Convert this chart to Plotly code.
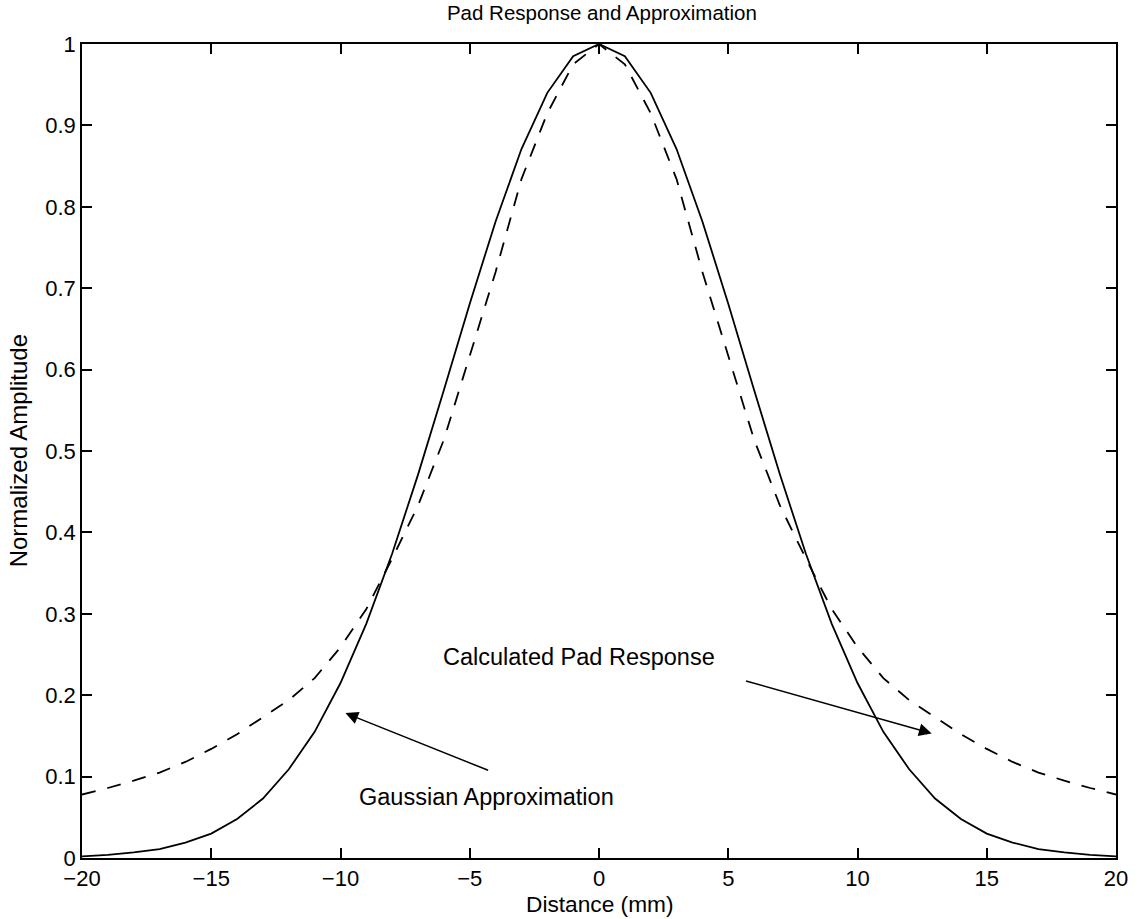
import plotly.graph_objects as go

distance_mm = list(range(-20, 21))

gaussian_half = [1.000, 0.985, 0.940, 0.871, 0.782, 0.681, 0.575, 0.471, 0.374, 0.288,
                 0.215, 0.155, 0.109, 0.073, 0.048, 0.030, 0.019, 0.011, 0.0068, 0.0039, 0.0021]
pad_half = [1.000, 0.975, 0.915, 0.834, 0.720, 0.617, 0.514, 0.433, 0.368, 0.306,
            0.259, 0.221, 0.194, 0.173, 0.152, 0.134, 0.118, 0.105, 0.095, 0.086, 0.078]

solid_vals = gaussian_half[::-1][:-1] + gaussian_half
dashed_vals = pad_half[::-1][:-1] + pad_half

FONT = "Liberation Sans, Arial, Helvetica, sans-serif"
FS_TICK = 22
FS_TEXT = 23.5

fig = go.Figure()
fig.add_trace(go.Scatter(x=distance_mm, y=solid_vals, mode="lines",
                         line=dict(color="black", width=1.8), showlegend=False))
fig.add_trace(go.Scatter(x=distance_mm, y=dashed_vals, mode="lines",
                         line=dict(color="black", width=1.8, dash="14px,12px"), showlegend=False))

axis_common = dict(showline=True, linecolor="black", linewidth=1.5, mirror="ticks",
                   ticks="inside", ticklen=10, tickwidth=1.5, tickcolor="black",
                   showgrid=False, zeroline=False,
                   tickfont=dict(family=FONT, size=FS_TICK, color="black"))

fig.update_xaxes(range=[-20, 20], dtick=5, tick0=0, **axis_common)
fig.update_yaxes(range=[0, 1], dtick=0.1, tick0=0, **axis_common)

W, H = 1140, 919
L, R, T, B = 82, 18, 44, 61
fig.update_layout(
    width=W, height=H,
    margin=dict(l=L, r=R, t=T, b=B),
    plot_bgcolor="white", paper_bgcolor="white",
    font=dict(family=FONT, size=FS_TICK, color="black"),
    title=dict(text="Pad Response and Approximation", x=0.528, xanchor="center",
               y=1 - 13 / H, yanchor="middle", yref="container",
               font=dict(family=FONT, size=20.5, color="black")),
)

pw = W - L - R
ph = H - T - B
annots = [
    dict(text="Distance (mm)", xref="paper", yref="paper", x=0.5, y=-(904 - (H - B)) / ph,
         showarrow=False, xanchor="center", yanchor="middle", font=dict(size=22.7)),
    dict(text="Normalized Amplitude", xref="paper", yref="paper", x=(18 - L) / pw, y=0.5,
         showarrow=False, xanchor="center", yanchor="middle", textangle=-90, font=dict(size=24)),
    dict(text="Calculated Pad Response", xref="x", yref="y", x=-6.12, y=0.247,
         showarrow=False, xanchor="left", yanchor="middle", font=dict(size=FS_TEXT)),
    dict(text="Gaussian Approximation", xref="x", yref="y", x=-9.38, y=0.075,
         showarrow=False, xanchor="left", yanchor="middle", font=dict(size=FS_TEXT)),
    dict(text="", xref="x", yref="y", axref="x", ayref="y", x=12.87, y=0.153, ax=5.63, ay=0.218,
         showarrow=True, arrowhead=2, arrowsize=1.7, arrowwidth=1.5, arrowcolor="black", standoff=0),
    dict(text="", xref="x", yref="y", axref="x", ayref="y", x=-9.81, y=0.178, ax=-4.23, ay=0.107,
         showarrow=True, arrowhead=2, arrowsize=1.7, arrowwidth=1.5, arrowcolor="black", standoff=0),
]
fig.update_layout(annotations=annots)

fig.write_html("out.html")
